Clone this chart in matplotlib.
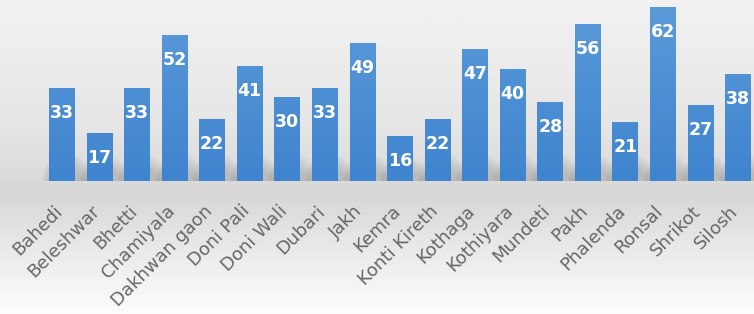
import matplotlib
matplotlib.use("Agg")
import matplotlib.pyplot as plt
import numpy as np
from matplotlib.colors import LinearSegmentedColormap
from matplotlib.patches import Ellipse

villages = ["Bahedi", "Beleshwar", "Bhetti", "Chamiyala", "Dakhwan gaon", "Doni Pali",
            "Doni Wali", "Dubari", "Jakh", "Kemra", "Konti Kireth", "Kothaga",
            "Kothiyara", "Mundeti", "Pakh", "Phalenda", "Ronsal", "Shrikot", "Silosh"]
values = [33, 17, 33, 52, 22, 41, 30, 33, 49, 16, 22, 47, 40, 28, 56, 21, 62, 27, 38]

W, H = 754, 314
fig = plt.figure(figsize=(W / 100, H / 100), dpi=100)

# background gradient
bg = fig.add_axes([0, 0, 1, 1])
bg.set_axis_off()
stops = [(0.0, "#f2f2f2"), (0.40, "#e6e6e6"), (0.58, "#dadada"), (0.62, "#d7d7d7"),
         (0.75, "#e5e5e5"), (1.0, "#fdfdfd")]
cmap = LinearSegmentedColormap.from_list("bg", stops)
grad = np.linspace(0, 1, 300).reshape(-1, 1)
bg.imshow(grad, aspect="auto", cmap=cmap, extent=[0, 1, 0, 1], vmin=0, vmax=1)
bg.set_xlim(0, 1)
bg.set_ylim(0, 1)

base_px = 181
ax = fig.add_axes([0, (H - base_px) / H, 1, base_px / H])
ax.patch.set_alpha(0)
x = np.arange(len(villages))
px_per_idx = 37.56
x0 = 62
ax.set_xlim(-x0 / px_per_idx, (W - x0) / px_per_idx)
ymax = base_px / 2.81
ax.set_ylim(0, ymax)

# soft shadows at the base of bars
for xi, v in zip(x, values):
    for k in range(6):
        e = Ellipse((xi + 0.12, 0), 0.9 + 0.08 * k, min(v, 18) * (0.5 + 0.12 * k),
                    facecolor="#505050", edgecolor="none", alpha=0.04, zorder=2)
        ax.add_patch(e)

bars = ax.bar(x, values, width=0.69, color="#4b8dd5", zorder=3)
bar_cmap = LinearSegmentedColormap.from_list("bar", ["#3f84cf", "#5c9bd9"])
bgrad = np.linspace(1, 0, 256).reshape(-1, 1)
for b in bars:
    xL, w, h = b.get_x(), b.get_width(), b.get_height()
    im = ax.imshow(bgrad, aspect="auto", cmap=bar_cmap, extent=[xL, xL + w, 0, ymax],
                   zorder=3.5, vmin=0, vmax=1)
    im.set_clip_path(b)
ax.set_xlim(-x0 / px_per_idx, (W - x0) / px_per_idx)
ax.set_ylim(0, ymax)

for xi, v in zip(x, values):
    ax.annotate(str(v), (xi, v), xytext=(0, -18), textcoords="offset points",
                ha="center", va="center", color="white", fontsize=12.5,
                fontweight="bold", family="DejaVu Sans", zorder=4)
ax.set_axis_off()

for xi, name in zip(x, villages):
    xp = (x0 + px_per_idx * xi - 9) / W
    yp = (H - 202) / H
    fig.text(xp, yp, name, rotation=45, rotation_mode="anchor", ha="right", va="top",
             color="#676767", fontsize=13, family="DejaVu Sans")

fig.savefig("out.png", dpi=100)
